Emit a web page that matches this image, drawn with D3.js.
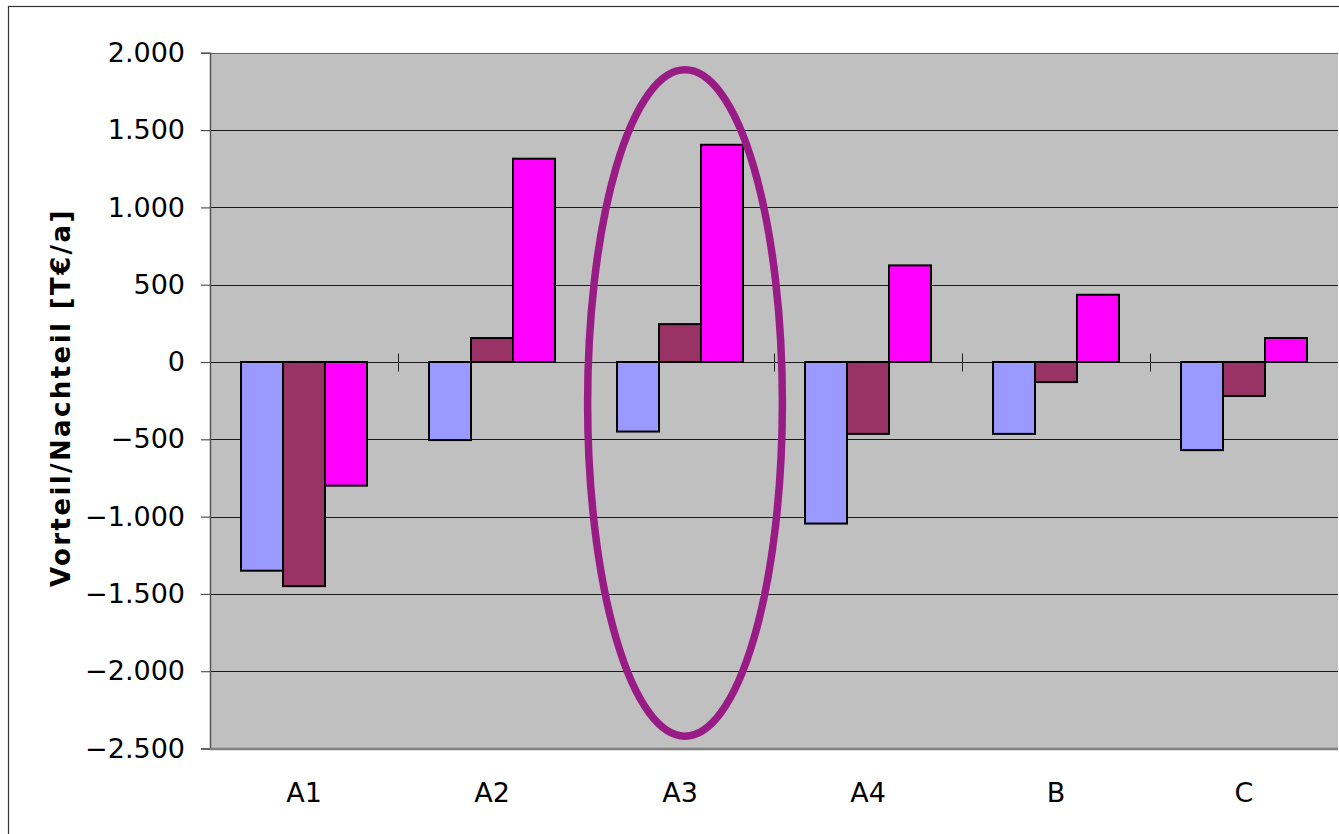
<!DOCTYPE html>
<html>
<head>
<meta charset="utf-8">
<script src="https://cdn.jsdelivr.net/npm/d3@7"></script>
<style>
  html, body { margin: 0; padding: 0; background: #fff; }
  svg { display: block; font-family: "DejaVu Sans", sans-serif; }
</style>
</head>
<body>
<svg id="chart" width="1339" height="834"></svg>
<script>
// ---- data ----
const categories = ["A1", "A2", "A3", "A4", "B", "C"];
const seriesNames = ["S1", "S2", "S3"];
const series1 = [-1350, -505, -450, -1045, -465, -570];
const series2 = [-1450, 155, 245, -465, -130, -220];
const series3 = [-800, 1315, 1405, 625, 435, 155];
const yTicks = [-2500, -2000, -1500, -1000, -500, 0, 500, 1000, 1500, 2000];
const yTitle = "Vorteil/Nachteil [T€/a]";
const highlightCategory = "A3";
const highlightTop = 1890;
const highlightBottom = -2420;

const seriesColors = ["#9999FF", "#993366", "#FF00FF"];
const allSeries = [series1, series2, series3];

const svg = d3.select("#chart");
const W = 1339, H = 834;
const plot = { left: 210, right: 1338, top: 52.8, bottom: 748.5 };

// outer frame (extends beyond viewport at right/bottom)
svg.append("rect")
  .attr("x", 8.5).attr("y", 6.5)
  .attr("width", W + 20).attr("height", H + 20)
  .attr("fill", "#fff").attr("stroke", "#333").attr("stroke-width", 1.2);

const x = d3.scaleBand().domain(categories).range([plot.left, plot.right]).paddingInner(0).paddingOuter(0);
const step = x.step();
const x1 = d3.scaleBand().domain(seriesNames).range([step * 0.165, step * 0.835]).padding(0);
const y = d3.scaleLinear().domain([-2500, 2000]).range([plot.bottom, plot.top]);

const de = d3.formatLocale({ decimal: ",", thousands: ".", grouping: [3], currency: ["", " €"], minus: "\u2212" });
const fmt = de.format(",d");

// plot background
svg.append("rect")
  .attr("x", plot.left).attr("y", plot.top)
  .attr("width", plot.right - plot.left).attr("height", plot.bottom - plot.top)
  .attr("fill", "#C0C0C0");

// gridlines
svg.append("g")
  .selectAll("line")
  .data(yTicks.filter(t => t > -2500 && t < 2000))
  .join("line")
  .attr("x1", plot.left).attr("x2", plot.right)
  .attr("y1", d => Math.round(y(d)) + 0.5).attr("y2", d => Math.round(y(d)) + 0.5)
  .attr("stroke", "#1a1a1a").attr("stroke-width", 1.1);

// top border of plot
svg.append("line")
  .attr("x1", plot.left).attr("x2", plot.right)
  .attr("y1", Math.round(plot.top) + 0.5).attr("y2", Math.round(plot.top) + 0.5)
  .attr("stroke", "#666").attr("stroke-width", 1.2);

// y axis
const yAxis = d3.axisLeft(y).tickValues(yTicks).tickFormat(fmt).tickSize(9).tickPadding(16);
const gy = svg.append("g").attr("transform", `translate(${plot.left},0)`).call(yAxis);
gy.select(".domain").attr("stroke", "#555").attr("stroke-width", 1.5);
gy.selectAll(".tick line").attr("stroke", "#555").attr("stroke-width", 1.2);
gy.selectAll(".tick text").attr("font-size", 27).attr("font-family", "DejaVu Sans, sans-serif").attr("fill", "#000");

// bottom border
svg.append("line")
  .attr("x1", plot.left).attr("x2", plot.right)
  .attr("y1", plot.bottom + 0.5).attr("y2", plot.bottom + 0.5)
  .attr("stroke", "#808080").attr("stroke-width", 2.5);

// category tick marks crossing zero line
const zeroY = Math.round(y(0)) + 0.5;
svg.append("g")
  .selectAll("line")
  .data(categories.slice(1))
  .join("line")
  .attr("x1", d => Math.round(x(d)) + 0.5)
  .attr("x2", d => Math.round(x(d)) + 0.5)
  .attr("y1", zeroY - 9).attr("y2", zeroY + 9)
  .attr("stroke", "#222").attr("stroke-width", 1);

// bars
const barData = [];
categories.forEach((c, i) => {
  seriesNames.forEach((s, j) => barData.push({ c, s, v: allSeries[j][i], color: seriesColors[j] }));
});
svg.append("g")
  .selectAll("rect")
  .data(barData)
  .join("rect")
  .attr("x", d => x(d.c) + x1(d.s))
  .attr("width", x1.bandwidth())
  .attr("y", d => y(Math.max(0, d.v)))
  .attr("height", d => Math.abs(y(d.v) - y(0)))
  .attr("fill", d => d.color)
  .attr("stroke", "#000").attr("stroke-width", 2);

// x labels
svg.append("g")
  .selectAll("text")
  .data(categories)
  .join("text")
  .attr("x", d => x(d) + step / 2)
  .attr("y", 802)
  .attr("text-anchor", "middle")
  .attr("font-size", 27)
  .attr("fill", "#000")
  .text(d => d);

// y title
svg.append("text")
  .attr("transform", `translate(70,${(plot.top + plot.bottom) / 2 - 3}) rotate(-90)`)
  .attr("text-anchor", "middle")
  .attr("font-size", 26)
  .attr("font-weight", "bold")
  .attr("letter-spacing", 2.4)
  .attr("fill", "#000")
  .text(yTitle);

// highlight ellipse
svg.append("ellipse")
  .attr("cx", x(highlightCategory) + step / 2 + 5)
  .attr("cy", (y(highlightTop) + y(highlightBottom)) / 2)
  .attr("rx", step * 0.518)
  .attr("ry", (y(highlightBottom) - y(highlightTop)) / 2)
  .attr("fill", "none")
  .attr("stroke", "#991C86")
  .attr("stroke-width", 7.5);
</script>
</body>
</html>
